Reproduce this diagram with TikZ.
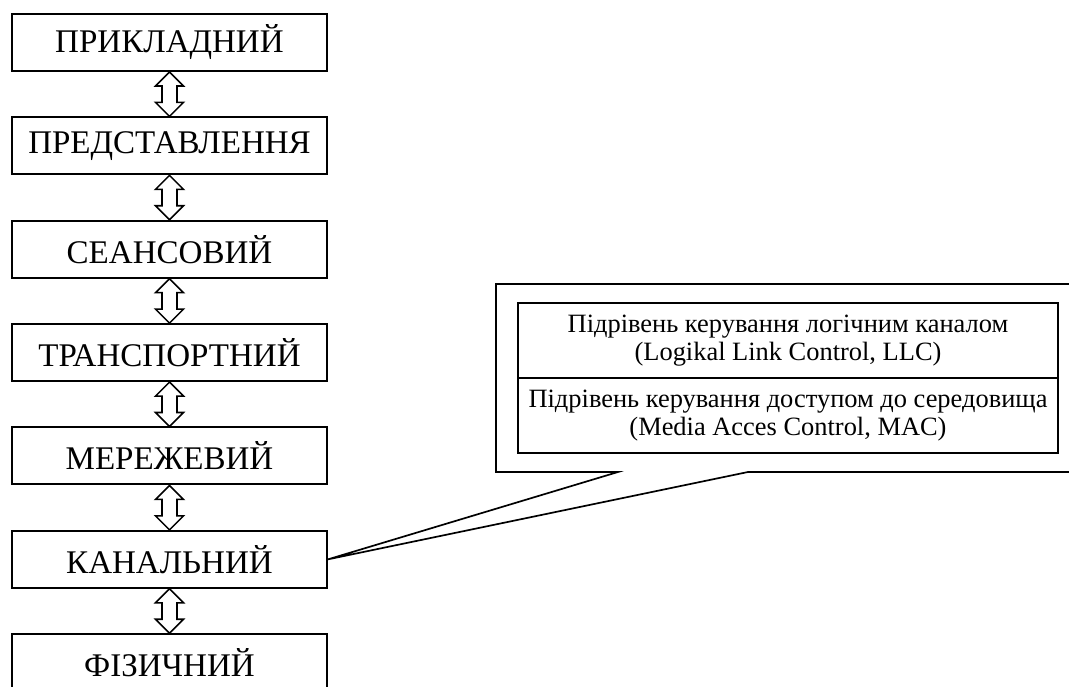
\documentclass[tikz,border=0pt]{standalone}
\usepackage{fontspec}
\setmainfont{Liberation Serif}
\usetikzlibrary{positioning, calc}

\begin{document}
\begin{tikzpicture}[
  layer/.style={rectangle, draw, line width=1.4pt, minimum width=7.875cm, minimum height=1.425cm, inner sep=0pt, font=\fontsize{23.5}{28}\selectfont},
  sublayer/.style={rectangle, draw, line width=1.2pt, minimum width=13.5cm, minimum height=1.875cm, inner sep=0pt, outer sep=0pt, align=center, font=\fontsize{18.8}{20}\selectfont},
  updown/.style={draw, line width=1.1pt, fill=white, line join=miter},
]
\useasboundingbox (0,0) rectangle (26.725,-17.175);
\clip (0,0) rectangle (26.725,-17.175);
\node[layer] (app) at (4.2375,-1.0625) {ПРИКЛАДНИЙ};
\node[layer, below=1.11cm of app] (pres) {ПРЕДСТАВЛЕННЯ};
\node[layer, below=1.11cm of pres] (ses) {СЕАНСОВИЙ};
\node[layer, below=1.11cm of ses] (tr) {ТРАНСПОРТНИЙ};
\node[layer, below=1.11cm of tr] (net) {МЕРЕЖЕВИЙ};
\node[layer, below=1.11cm of net] (dl) {КАНАЛЬНИЙ};
\node[layer, below=1.11cm of dl] (phy) {ФІЗИЧНИЙ};
% hollow double arrows between layers
\foreach \a/\b in {app/pres, pres/ses, ses/tr, tr/net, net/dl, dl/phy} {
  \draw[updown] (\a.south) -- ++(-0.35,-0.35) -- ++(0.1625,0) -- ($(\b.north)+(-0.1875,0.35)$) -- ++(-0.1625,0) -- (\b.north) -- ++(0.35,0.35) -- ++(-0.1625,0) -- ($(\a.south)+(0.1875,-0.35)$) -- ++(0.1625,0) -- cycle;
}
% sublayers of the data link layer
\node[sublayer] (llc) at (19.7,-8.5125) {Підрівень керування логічним каналом\\(Logikal Link Control, LLC)};
\node[sublayer, below=0pt of llc] (mac) {Підрівень керування доступом до середовища\\(Media Acces Control, MAC)};
% callout frame
\coordinate (gl) at (15.45,-11.8);
\coordinate (gr) at (18.7,-11.8);
\draw[line width=1.2pt, line join=miter] (gl) -- (12.4,-11.8) -- (12.4,-7.1) -- (27,-7.1) -- (27,-11.8) -- (gr) -- (dl.east) -- cycle;
\end{tikzpicture}
\end{document}
